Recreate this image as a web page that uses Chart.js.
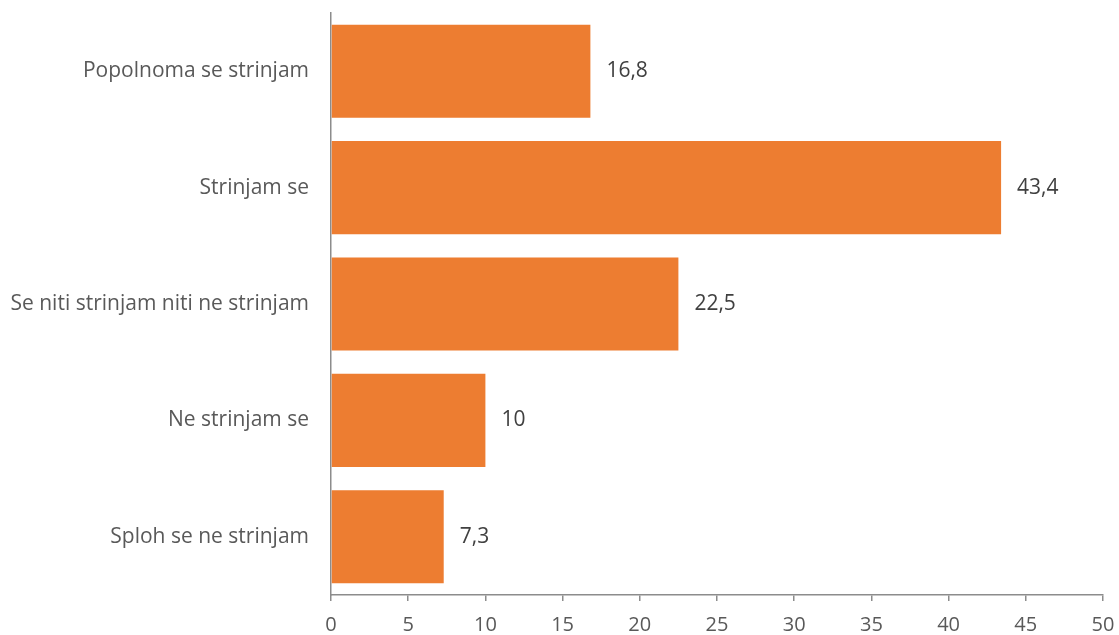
<!DOCTYPE html>
<html>
<head>
<meta charset="utf-8">
<script src="https://cdn.jsdelivr.net/npm/chart.js@4/dist/chart.umd.min.js"></script>
<style>
html,body{margin:0;padding:0;background:#fff;}
#wrap{width:1119px;height:635px;}
</style>
</head>
<body>
<div id="wrap"><canvas id="c" width="1119" height="635"></canvas></div>
<script>
const categories = ["Popolnoma se strinjam", "Strinjam se", "Se niti strinjam niti ne strinjam", "Ne strinjam se", "Sploh se ne strinjam"];
const values = [16.8, 43.4, 22.5, 10, 7.3];
const valueLabels = ["16,8", "43,4", "22,5", "10", "7,3"];
const xTicks = [0, 5, 10, 15, 20, 25, 30, 35, 40, 45, 50];

const FONT = "'Open Sans', 'Noto Sans', sans-serif";

const labelPlugin = {
  id: 'valueLabels',
  afterDatasetsDraw(chart) {
    const ctx = chart.ctx;
    const meta = chart.getDatasetMeta(0);
    ctx.save();
    ctx.font = "21px " + FONT;
    ctx.fillStyle = "#404040";
    ctx.textAlign = "left";
    ctx.textBaseline = "middle";
    meta.data.forEach((bar, i) => {
      ctx.fillText(valueLabels[i], bar.x + 16, bar.y);
    });
    ctx.restore();
  }
};

new Chart(document.getElementById('c'), {
  type: 'bar',
  data: {
    labels: categories,
    datasets: [{
      data: values,
      backgroundColor: '#ED7D31',
      categoryPercentage: 0.8,
      barPercentage: 1.0
    }]
  },
  options: {
    indexAxis: 'y',
    responsive: false,
    animation: false,
    devicePixelRatio: 1,
    layout: { padding: { top: 13, right: 16, left: 0, bottom: 0 } },
    plugins: { legend: { display: false }, tooltip: { enabled: false } },
    scales: {
      x: {
        min: 0, max: 50,
        afterBuildTicks(scale) { scale.ticks = xTicks.map(v => ({ value: v })); },
        afterFit(scale) { scale.height = 40; scale.paddingLeft = 0; scale.paddingRight = 0; },
        grid: { display: true, drawOnChartArea: false, drawTicks: true, tickLength: 6, color: '#8c8c8c', lineWidth: 1.5 },
        border: { display: true, color: '#8c8c8c', width: 1.5 },
        ticks: { color: '#595959', font: { family: FONT, size: 20 }, padding: 12, maxRotation: 0 }
      },
      y: {
        afterFit(scale) { scale.width = 331; scale.paddingTop = 0; scale.paddingBottom = 0; },
        grid: { display: false, drawTicks: false },
        border: { display: true, color: '#8c8c8c', width: 1.5 },
        ticks: { color: '#595959', font: { family: FONT, size: 21 }, padding: 22 }
      }
    }
  },
  plugins: [labelPlugin]
});
</script>
</body>
</html>
